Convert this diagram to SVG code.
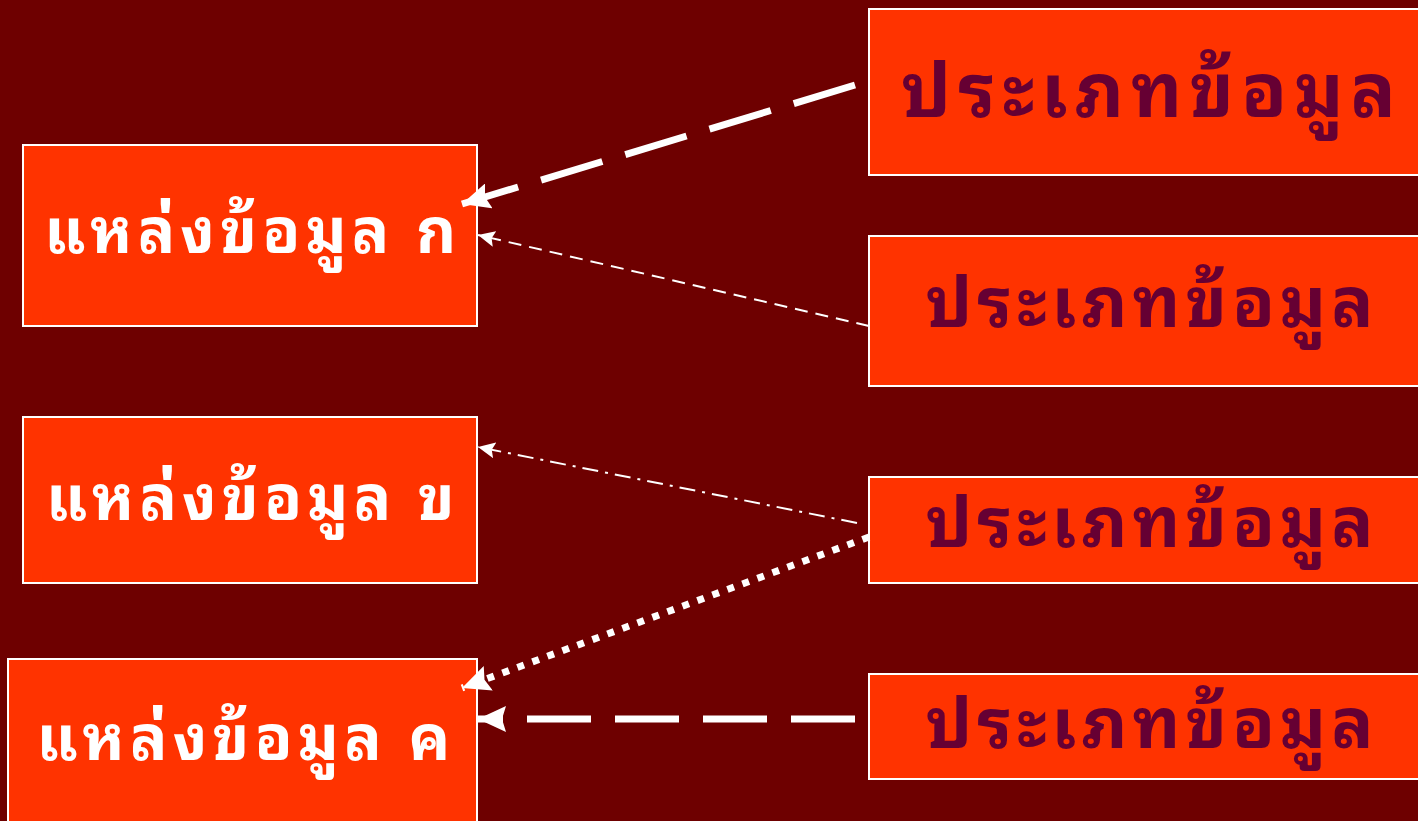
<svg xmlns="http://www.w3.org/2000/svg" width="1418" height="821" viewBox="0 0 1418 821">
<defs>
<style>
.src rect{fill:#FF3300;stroke:#FFFFFF;stroke-width:2}
.src text{fill:#FFFFFF;font-family:"Noto Sans Thai Looped","Noto Serif Thai","Noto Sans Thai","Noto Sans",sans-serif;font-weight:bold;font-size:62px;letter-spacing:5.3px;text-anchor:middle}
.typ rect{fill:#FF3300;stroke:#FFFFFF;stroke-width:2}
.typ text{fill:#660033;font-family:"Noto Sans Thai Looped","Noto Serif Thai","Noto Sans Thai","Noto Sans",sans-serif;font-weight:bold;font-size:70px;letter-spacing:5px;text-anchor:middle}
.c{stroke:#FFFFFF;fill:none}
.thick{stroke-width:7}
.thin{stroke-width:2}
</style>
<marker id="big" markerUnits="userSpaceOnUse" markerWidth="30" markerHeight="26" refX="28" refY="13" orient="auto">
<path d="M0,0 L28,13 L0,26 L4,13 Z" fill="#FFFFFF"/>
</marker>
<marker id="small" markerUnits="userSpaceOnUse" markerWidth="18" markerHeight="16" refX="17" refY="8" orient="auto">
<path d="M0,0 L17,8 L0,16 L3,8 Z" fill="#FFFFFF"/>
</marker>
</defs>
<rect x="0" y="0" width="1418" height="821" fill="#6E0000"/>

<g id="src-a" class="src">
<rect x="23" y="145" width="454" height="181"/>
<text x="253" y="253">แหล่งข้อมูล ก</text>
</g>
<g id="src-b" class="src">
<rect x="23" y="417" width="454" height="166"/>
<text x="253" y="520">แหล่งข้อมูล ข</text>
</g>
<g id="src-c" class="src">
<rect x="8" y="659" width="469" height="180"/>
<text x="246" y="760">แหล่งข้อมูล ค</text>
</g>

<g id="type-1" class="typ">
<rect x="869" y="9" width="560" height="166"/>
<text x="1152" y="117" style="font-size:75px;letter-spacing:7px">ประเภทข้อมูล</text>
</g>
<g id="type-2" class="typ">
<rect x="869" y="236" width="560" height="150"/>
<text x="1152" y="327">ประเภทข้อมูล</text>
</g>
<g id="type-3" class="typ">
<rect x="869" y="477" width="560" height="106"/>
<text x="1152" y="547">ประเภทข้อมูล</text>
</g>
<g id="type-4" class="typ">
<rect x="869" y="674" width="560" height="105"/>
<text x="1152" y="748">ประเภทข้อมูล</text>
</g>

<g id="connectors">
<line class="c thick" x1="855" y1="85" x2="462" y2="204" stroke-dasharray="64 24" marker-end="url(#big)"/>
<line class="c thin" x1="869" y1="326" x2="478" y2="235" stroke-dasharray="13 8" marker-end="url(#small)"/>
<line class="c thin" x1="857" y1="523" x2="478" y2="447" stroke-dasharray="16 7 3 7" marker-end="url(#small)"/>
<line class="c thick" x1="869" y1="537" x2="462" y2="688" stroke-dasharray="7 9" marker-end="url(#big)"/>
<line class="c thick" x1="855" y1="719" x2="478" y2="719" stroke-dasharray="64 24" marker-end="url(#big)"/>
</g>
</svg>
